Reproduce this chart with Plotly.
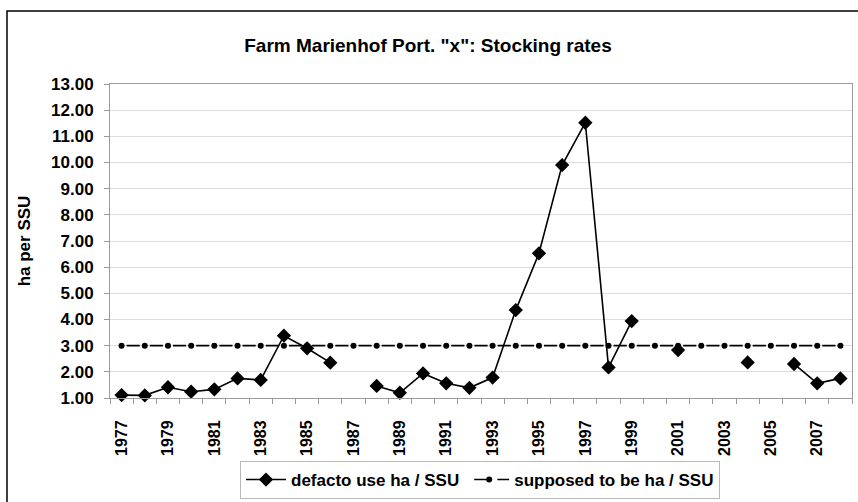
import plotly.graph_objects as go

years = list(range(1977, 2009))
defacto = [1.11, 1.10, 1.41, 1.24, 1.33, 1.75, 1.69, 3.38, 2.90, 2.35, None,
           1.46, 1.20, 1.94, 1.56, 1.39, 1.78, 4.36, 6.53, 9.90, 11.52,
           2.17, 3.94, None, 2.83, None, None, 2.36, None, 2.30, 1.56, 1.75]
supposed = [3.00] * len(years)
xtick_years = list(range(1977, 2009, 2))
ytick_vals = list(range(1, 14))

FONT = "Liberation Sans, Arial, sans-serif"

fig = go.Figure()
fig.add_trace(go.Scatter(
    x=years, y=defacto, name="<b>defacto use ha / SSU</b>", mode="lines+markers",
    line=dict(color="black", width=1.6), connectgaps=False,
    marker=dict(symbol="diamond", size=11, color="black"), cliponaxis=False))
fig.add_trace(go.Scatter(
    x=years, y=supposed, name="<b>supposed to be ha / SSU</b>", mode="lines+markers",
    line=dict(color="black", width=1.6, dash="0px,5px,13.19px,5px"),
    marker=dict(symbol="circle", size=6, color="black"), cliponaxis=False))

fig.update_layout(
    width=858, height=502,
    margin=dict(l=110, r=6, t=84, b=104, autoexpand=False),
    paper_bgcolor="white", plot_bgcolor="white",
    font=dict(family=FONT, color="black", size=14),
    title=dict(text="<b>Farm Marienhof Port. \"x\": Stocking rates</b>",
               x=428 / 858, xanchor="center", xref="container",
               y=1 - 45 / 502, yanchor="middle", yref="container",
               font=dict(size=19, family=FONT)),
    showlegend=True,
    legend=dict(orientation="h", x=(480 - 110) / 742, xanchor="center", xref="paper",
                y=1 - 461 / 502, yanchor="top", yref="container",
                bordercolor="#b8b8b8", borderwidth=1, bgcolor="white",
                font=dict(size=17, family=FONT), traceorder="normal",
                itemwidth=40, tracegroupgap=0),
    shapes=[dict(type="rect", xref="paper", yref="paper",
                 x0=(7 - 110) / 742, x1=(870 - 110) / 742,
                 y0=(398 - 515) / 314, y1=1 + (84 - 11) / 314,
                 line=dict(color="black", width=1.5), layer="below")],
)

fig.update_xaxes(
    range=[1976.5, 2008.5], tickmode="array", tickvals=xtick_years,
    ticktext=[f"<b>{y}</b>" for y in xtick_years], tickangle=-90,
    ticks="", showgrid=False, zeroline=False, automargin=False,
    showline=True, linecolor="#9a9a9a", linewidth=1, mirror=True,
    tickfont=dict(size=16, family=FONT), ticklabelstandoff=15,
    minor=dict(tick0=1976.5, dtick=1, ticks="outside", ticklen=5,
               tickcolor="#9a9a9a", showgrid=False))
fig.update_yaxes(
    range=[1, 13], tickmode="array", tickvals=ytick_vals,
    ticktext=[f"<b>{v:.2f}</b>" for v in ytick_vals],
    ticks="outside", ticklen=5, tickcolor="#9a9a9a", automargin=False,
    showgrid=True, gridcolor="#dcdcdc", gridwidth=1, zeroline=False,
    showline=True, linecolor="#9a9a9a", linewidth=1, mirror=True,
    tickfont=dict(size=17, family=FONT), ticklabelstandoff=7,
    title=dict(text="<b>ha per SSU</b>", font=dict(size=17, family=FONT), standoff=16))

fig.write_html("out.html", config={"displayModeBar": False},
               post_script="document.body.style.margin='0';document.body.style.overflow='hidden';")
